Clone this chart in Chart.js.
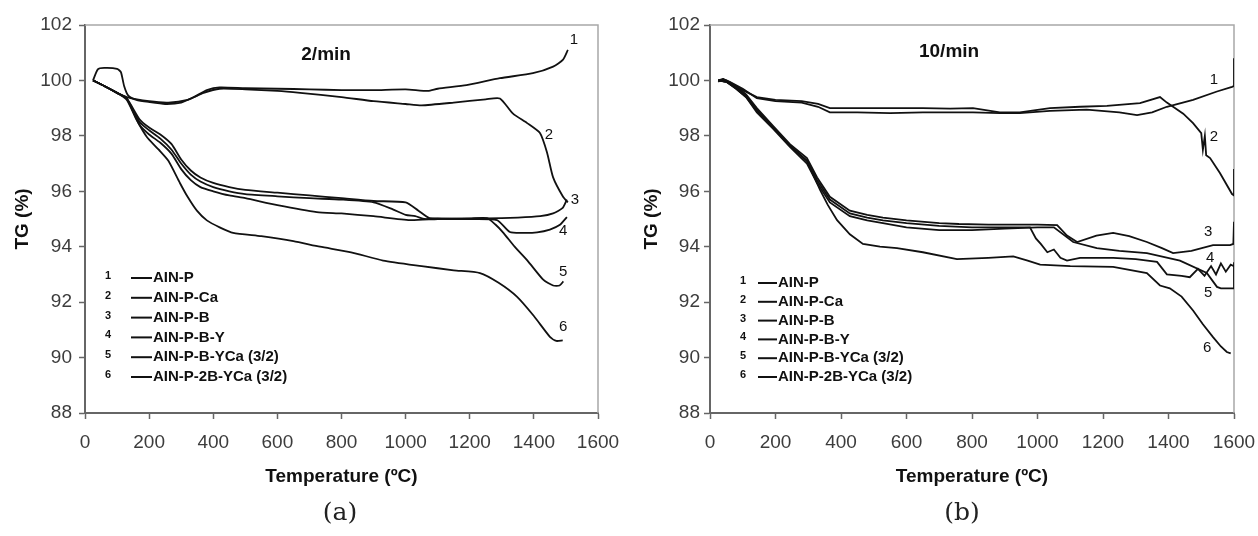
<!DOCTYPE html>
<html>
<head>
<meta charset="utf-8">
<script src="https://cdn.jsdelivr.net/npm/chart.js@4.4.0/dist/chart.umd.min.js"></script>
<style>
  body { margin: 0; background: #fff; width: 1258px; height: 536px; position: relative; overflow: hidden; }
  canvas { position: absolute; top: 0; }
  #chartA { left: 0; }
  #chartB { left: 629px; }
  .sub { position: absolute; top: 497px; font-family: "DejaVu Serif", "Liberation Serif", serif; font-size: 25px; color: #222; transform: translateX(-50%); }
</style>
</head>
<body>
<canvas id="chartA" width="629" height="536"></canvas>
<canvas id="chartB" width="629" height="536"></canvas>
<div class="sub" style="left:340px">(a)</div>
<div class="sub" style="left:962px">(b)</div>
<script>
// sample names and axis ticks
const sampleNames = ['AIN-P', 'AIN-P-Ca', 'AIN-P-B', 'AIN-P-B-Y', 'AIN-P-B-YCa (3/2)', 'AIN-P-2B-YCa (3/2)'];
const tempTicks = [0, 200, 400, 600, 800, 1000, 1200, 1400, 1600];
const tgTicks = [88, 90, 92, 94, 96, 98, 100, 102];

// (a) 2/min
const tempA1 = [25, 40, 60, 100, 112, 122, 135, 160, 200, 250, 300, 340, 380, 420, 500, 600, 700, 800, 900, 1000, 1070, 1100, 1190, 1294, 1397, 1460, 1491, 1506];
const tgA1 = [100.0, 100.4, 100.45, 100.42, 100.3, 99.8, 99.45, 99.3, 99.22, 99.15, 99.2, 99.4, 99.65, 99.75, 99.72, 99.7, 99.68, 99.65, 99.65, 99.68, 99.62, 99.7, 99.83, 100.08, 100.26, 100.5, 100.75, 101.1];
const tempA2 = [25, 60, 100, 130, 200, 260, 320, 370, 420, 500, 600, 671, 800, 900, 1000, 1050, 1150, 1250, 1294, 1335, 1379, 1419, 1441, 1460, 1491, 1506];
const tgA2 = [100.0, 99.8, 99.55, 99.4, 99.25, 99.2, 99.3, 99.55, 99.7, 99.68, 99.62, 99.55, 99.4, 99.25, 99.15, 99.1, 99.2, 99.32, 99.35, 98.8, 98.46, 98.1, 97.4, 96.5, 95.8, 95.6];
const tempA3 = [25, 60, 100, 130, 170, 200, 235, 270, 300, 330, 360, 400, 450, 500, 600, 700, 800, 900, 1000, 1040, 1075, 1150, 1250, 1350, 1420, 1460, 1490, 1503];
const tgA3 = [100.0, 99.8, 99.55, 99.35, 98.6, 98.3, 98.05, 97.7, 97.15, 96.75, 96.5, 96.3, 96.15, 96.05, 95.95, 95.85, 95.75, 95.65, 95.6, 95.3, 95.03, 95.0, 95.02, 95.05, 95.1, 95.2, 95.4, 95.7];
const tempA4 = [25, 60, 100, 130, 170, 200, 235, 270, 300, 330, 360, 400, 450, 500, 600, 700, 800, 900, 960, 1000, 1030, 1060, 1100, 1200, 1285, 1325, 1370, 1410, 1450, 1480, 1503];
const tgA4 = [100.0, 99.8, 99.55, 99.35, 98.5, 98.2, 97.9, 97.5, 97.0, 96.6, 96.35, 96.15, 96.0, 95.9, 95.82, 95.75, 95.7, 95.6, 95.35, 95.15, 95.1, 95.0, 95.02, 95.0, 94.96, 94.53, 94.5, 94.52, 94.62, 94.78, 95.07];
const tempA5 = [25, 60, 100, 130, 170, 200, 235, 270, 300, 330, 360, 400, 450, 500, 600, 723, 800, 900, 1013, 1100, 1200, 1254, 1280, 1305, 1340, 1380, 1430, 1460, 1480, 1492];
const tgA5 = [100.0, 99.8, 99.55, 99.35, 98.4, 98.05, 97.75, 97.35, 96.8, 96.4, 96.15, 96.0, 95.85, 95.75, 95.5, 95.25, 95.2, 95.1, 94.96, 95.0, 95.02, 95.03, 94.8, 94.5, 94.0, 93.5, 92.8, 92.6, 92.6, 92.75];
const tempA6 = [25, 60, 100, 130, 160, 193, 230, 260, 296, 320, 349, 380, 420, 462, 550, 650, 733, 830, 930, 1050, 1150, 1232, 1290, 1347, 1400, 1450, 1470, 1490];
const tgA6 = [100.0, 99.8, 99.55, 99.3, 98.6, 97.96, 97.5, 97.1, 96.3, 95.8, 95.3, 94.95, 94.7, 94.5, 94.38, 94.2, 94.0, 93.8, 93.5, 93.3, 93.15, 93.05, 92.7, 92.2, 91.5, 90.75, 90.6, 90.62];

// (b) 10/min
const tempB1 = [25, 40, 60, 100, 143, 200, 280, 330, 366, 450, 550, 650, 733, 803, 885, 946, 1038, 1150, 1250, 1304, 1350, 1395, 1475, 1548, 1594, 1600, 1600];
const tgB1 = [99.95, 100.05, 99.95, 99.7, 99.36, 99.25, 99.2, 99.05, 98.85, 98.85, 98.82, 98.85, 98.85, 98.85, 98.82, 98.82, 98.9, 98.95, 98.85, 98.75, 98.85, 99.05, 99.3, 99.6, 99.77, 99.8, 100.8];
const tempB2 = [25, 40, 60, 100, 143, 200, 280, 330, 366, 450, 550, 650, 733, 803, 885, 946, 1038, 1130, 1212, 1313, 1374, 1395, 1414, 1445, 1475, 1500, 1505, 1511, 1515, 1527, 1557, 1594, 1600, 1600];
const tgB2 = [100.0, 100.05, 99.9, 99.65, 99.4, 99.3, 99.25, 99.15, 99.0, 99.0, 99.0, 99.0, 98.98, 99.0, 98.85, 98.85, 99.0, 99.05, 99.08, 99.18, 99.4, 99.2, 99.05, 98.8, 98.46, 98.1, 97.5, 98.0, 97.3, 97.2, 96.66, 95.9, 95.85, 96.8];
const tempB3 = [25, 50, 80, 110, 143, 193, 244, 296, 327, 366, 427, 480, 528, 600, 700, 760, 850, 950, 1000, 1060, 1090, 1121, 1180, 1231, 1280, 1334, 1380, 1414, 1470, 1536, 1588, 1598, 1600];
const tgB3 = [100.0, 100.0, 99.8, 99.5, 99.0, 98.35, 97.7, 97.2, 96.5, 95.8, 95.3, 95.15, 95.05, 94.95, 94.85, 94.82, 94.8, 94.8, 94.8, 94.78, 94.4, 94.17, 94.4, 94.5, 94.38, 94.17, 93.95, 93.77, 93.85, 94.06, 94.06, 94.1, 94.9];
const tempB4 = [25, 50, 80, 110, 143, 193, 244, 296, 327, 366, 427, 480, 528, 600, 700, 800, 900, 977, 995, 1010, 1030, 1050, 1070, 1090, 1130, 1231, 1300, 1365, 1395, 1440, 1465, 1490, 1510, 1530, 1545, 1560, 1575, 1590, 1600];
const tgB4 = [100.0, 99.95, 99.75, 99.45, 98.95, 98.3, 97.65, 97.1, 96.4, 95.7, 95.2, 95.05, 94.95, 94.85, 94.75, 94.7, 94.7, 94.7, 94.3, 94.1, 93.8, 93.9, 93.6, 93.5, 93.6, 93.6, 93.55, 93.45, 93.0, 92.95, 92.9, 93.2, 92.95, 93.3, 93.0, 93.4, 93.1, 93.35, 93.3];
const tempB5 = [25, 50, 80, 110, 143, 193, 244, 296, 327, 366, 427, 480, 528, 600, 700, 800, 900, 1000, 1050, 1109, 1181, 1250, 1334, 1435, 1517, 1548, 1560, 1600, 1600];
const tgB5 = [100.0, 99.95, 99.7, 99.4, 98.85, 98.25, 97.6, 97.0, 96.3, 95.6, 95.1, 94.95, 94.85, 94.7, 94.6, 94.6, 94.65, 94.7, 94.7, 94.17, 93.95, 93.85, 93.77, 93.5, 93.05, 92.55, 92.5, 92.5, 93.44];
const tempB6 = [25, 50, 80, 110, 143, 193, 244, 296, 336, 360, 388, 427, 467, 519, 571, 650, 754, 850, 926, 970, 1008, 1100, 1231, 1334, 1374, 1404, 1440, 1475, 1505, 1536, 1560, 1578, 1590];
const tgB6 = [100.0, 99.95, 99.7, 99.4, 98.9, 98.3, 97.65, 97.1, 96.05, 95.5, 94.96, 94.45, 94.1, 94.0, 93.95, 93.8, 93.55, 93.6, 93.65, 93.5, 93.35, 93.3, 93.27, 93.05, 92.6, 92.5, 92.2, 91.7, 91.2, 90.74, 90.4, 90.2, 90.15];

// curve number tags [temperature, TG]
const tagsA = [[1525, 101.46], [1447, 98.03], [1528, 95.68], [1491, 94.56], [1491, 93.08], [1491, 91.1]];
const tagsB = [[1539, 100.01], [1539, 97.96], [1521, 94.53], [1527, 93.59], [1521, 92.33], [1518, 90.34]];

const FONT = '"Liberation Sans", Arial, sans-serif';

function pts(t, g) {
    return t.map((v, i) => ({ x: v, y: g[i] }));
}

function makeDatasets(list, tension) {
    return list.map((s, i) => ({
        label: sampleNames[i],
        data: pts(s[0], s[1]),
        borderColor: '#111',
        borderWidth: 1.8,
        pointRadius: 0,
        fill: false,
        tension: tension
    }));
}

function decorPlugin(opt) {
    return {
        id: 'decor',
        beforeDatasetsDraw(chart) {
            const { ctx, chartArea: a } = chart;
            ctx.save();
            ctx.strokeStyle = '#a8a8a8';
            ctx.lineWidth = 1.5;
            ctx.beginPath();
            ctx.moveTo(a.left, a.top);
            ctx.lineTo(a.right, a.top);
            ctx.lineTo(a.right, a.bottom);
            ctx.stroke();
            ctx.restore();
        },
        afterDraw(chart) {
            const { ctx, chartArea: a, scales: { x, y } } = chart;
            ctx.save();
            ctx.fillStyle = '#111';
            ctx.textBaseline = 'middle';
            // heating rate
            ctx.font = 'bold 19px ' + FONT;
            ctx.textAlign = 'center';
            ctx.fillText(opt.rate, x.getPixelForValue(opt.ratePos[0]), y.getPixelForValue(opt.ratePos[1]));
            // curve numbers
            ctx.font = '15px ' + FONT;
            opt.tags.forEach((p, i) => {
                ctx.fillText(String(i + 1), x.getPixelForValue(p[0]), y.getPixelForValue(p[1]));
            });
            // legend box
            sampleNames.forEach((name, i) => {
                const yy = a.bottom + opt.legTop + i * opt.legStep;
                ctx.font = 'bold 11px ' + FONT;
                ctx.textAlign = 'center';
                ctx.fillText(String(i + 1), a.left + opt.numX, yy - 2);
                ctx.strokeStyle = '#111';
                ctx.lineWidth = 2;
                ctx.beginPath();
                ctx.moveTo(a.left + opt.lineX[0], yy);
                ctx.lineTo(a.left + opt.lineX[1], yy);
                ctx.stroke();
                ctx.font = 'bold 15px ' + FONT;
                ctx.textAlign = 'left';
                ctx.fillText(name, a.left + opt.lineX[1] + 1, yy);
            });
            ctx.restore();
        }
    };
}

function makeScales(yWidth, yPad, yTitlePad) {
    return {
        x: {
            type: 'linear',
            min: 0,
            max: 1600,
            afterBuildTicks: s => { s.ticks = tempTicks.map(v => ({ value: v })); },
            afterFit: s => {
                s.height = 80;
                // only half of the last label may overhang the plot
                s.paddingLeft = 6;
                s.paddingRight = 21;
            },
            grid: { drawOnChartArea: false, tickLength: 6, color: '#666', tickWidth: 1.5 },
            border: { display: true, color: '#666', width: 2 },
            ticks: { color: '#3c3c3c', font: { family: FONT, size: 19 }, padding: 12, maxRotation: 0, autoSkip: false, callback: v => String(v) },
            title: { display: true, text: 'Temperature (ºC)', color: '#111', font: { family: FONT, size: 19, weight: 'bold' }, padding: { top: 0, bottom: 5 } }
        },
        y: {
            type: 'linear',
            min: 88,
            max: 102,
            afterBuildTicks: s => { s.ticks = tgTicks.map(v => ({ value: v })); },
            afterFit: s => { s.width = yWidth; },
            grid: { drawOnChartArea: false, tickLength: 6, color: '#666', tickWidth: 1.5 },
            border: { display: true, color: '#666', width: 2 },
            ticks: { color: '#3c3c3c', font: { family: FONT, size: 19 }, padding: yPad, callback: v => String(v) },
            title: { display: true, text: 'TG (%)', color: '#111', font: { family: FONT, size: 19, weight: 'bold' }, padding: { top: yTitlePad, bottom: 0 } }
        }
    };
}

function makeChart(id, series, tension, scales, padding, opt) {
    return new Chart(document.getElementById(id), {
        type: 'line',
        data: { datasets: makeDatasets(series, tension) },
        options: {
            responsive: false,
            animation: false,
            devicePixelRatio: 1,
            layout: { padding: padding },
            plugins: { legend: { display: false }, tooltip: { enabled: false } },
            scales: scales
        },
        plugins: [decorPlugin(opt)]
    });
}

makeChart('chartA',
    [[tempA1, tgA1], [tempA2, tgA2], [tempA3, tgA3], [tempA4, tgA4], [tempA5, tgA5], [tempA6, tgA6]],
    0.2,
    makeScales(85, 7, 11),
    { left: 0, right: 31, top: 25, bottom: 43 },
    { rate: '2/min', ratePos: [752, 100.92], tags: tagsA, legTop: -135, legStep: 19.8, numX: 23, lineX: [46, 67] }
);

makeChart('chartB',
    [[tempB1, tgB1], [tempB2, tgB2], [tempB3, tgB3], [tempB4, tgB4], [tempB5, tgB5], [tempB6, tgB6]],
    0,
    makeScales(81, 4, 11),
    { left: 0, right: 24, top: 25, bottom: 43 },
    { rate: '10/min', ratePos: [730, 101.03], tags: tagsB, legTop: -130, legStep: 18.8, numX: 33, lineX: [48, 67] }
);
</script>
</body>
</html>
